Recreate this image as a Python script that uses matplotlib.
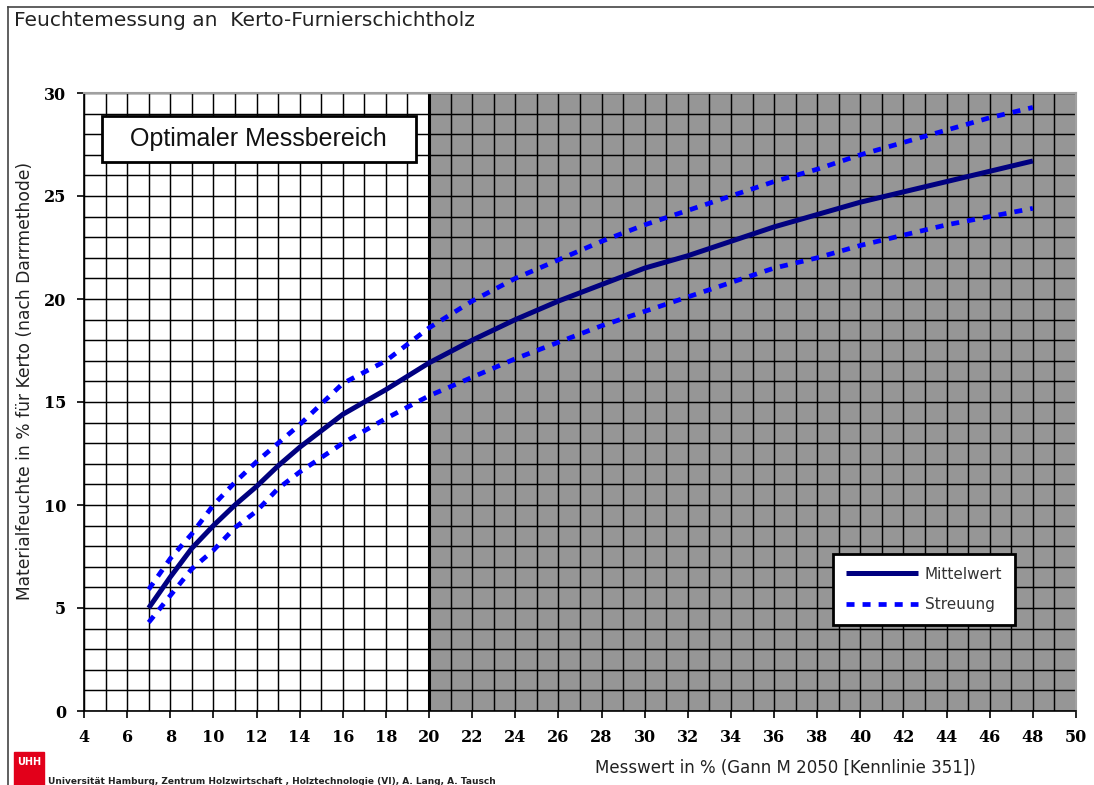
import numpy as np
import matplotlib
matplotlib.use('Agg')
from matplotlib import pyplot as plt
from matplotlib.lines import Line2D
from matplotlib.patches import Rectangle

# ----------------------------------------------------------------------------
# Data

messwert = [7, 8, 9, 10, 11, 12, 13, 14, 15, 16, 18, 20, 22, 24, 26, 28,
            30, 32, 34, 36, 38, 40, 42, 44, 46, 48]
mittelwert = [5.0, 6.5, 7.9, 9.0, 10.0, 10.9, 11.9, 12.8, 13.6, 14.4, 15.6,
              16.9, 18.0, 19.0, 19.9, 20.7, 21.5, 22.1, 22.8, 23.5, 24.1,
              24.7, 25.2, 25.7, 26.2, 26.7]
streuung_oben = [5.9, 7.4, 8.6, 10.0, 11.1, 12.1, 13.0, 13.9, 14.9, 15.9,
                 17.0, 18.6, 19.9, 21.0, 21.9, 22.8, 23.6, 24.3, 25.0, 25.7,
                 26.3, 27.0, 27.6, 28.2, 28.8, 29.3]
streuung_unten = [4.3, 5.6, 6.9, 7.8, 8.9, 9.7, 10.8, 11.6, 12.3, 13.0,
                  14.2, 15.3, 16.2, 17.1, 17.9, 18.7, 19.4, 20.1, 20.8, 21.5,
                  22.0, 22.6, 23.1, 23.6, 24.0, 24.4]

x_ticks = list(range(4, 51, 2))
y_ticks = [0, 5, 10, 15, 20, 25, 30]
optimal_end = 20

# ----------------------------------------------------------------------------

fig = plt.figure(figsize=(10.94, 7.85), dpi=100)
ax = fig.add_axes([84/1094, 1 - 711/785, 992/1094, 618/785])

ax.set_xlim(4, 50)
ax.set_ylim(0, 30)

# grey area outside the optimal range
ax.axvspan(optimal_end, 50, color='#969696', zorder=0, lw=0)

# fine grid at every unit
for xv in range(4, 51):
    ax.axvline(xv, color='black', lw=1.05, zorder=1)
for yv in range(0, 31):
    ax.axhline(yv, color='black', lw=1.05, zorder=1)
ax.axvline(optimal_end, color='black', lw=2.2, zorder=1)

ax.plot(messwert, mittelwert, color='#000080', lw=3.6, zorder=3,
        solid_capstyle='butt', label='Mittelwert')
ax.plot(messwert, streuung_oben, color='#0000ff', lw=3.4, zorder=3,
        dashes=(1.7, 1.7), label='Streuung')
ax.plot(messwert, streuung_unten, color='#0000ff', lw=3.4, zorder=3,
        dashes=(1.7, 1.7))

ax.set_xticks(x_ticks)
ax.set_yticks(y_ticks)
tick_font = dict(family='DejaVu Serif', weight='bold', size=11.5)
ax.set_xticklabels([str(t) for t in x_ticks], **tick_font)
ax.set_yticklabels([str(t) for t in y_ticks], **tick_font)
ax.tick_params(axis='both', direction='out', length=5, width=1.2,
               color='black', pad=8)

for side in ['top', 'right']:
    ax.spines[side].set_color('#a0a0a0')
    ax.spines[side].set_linewidth(1.5)
for side in ['left', 'bottom']:
    ax.spines[side].set_color('black')
    ax.spines[side].set_linewidth(1.2)

# "Optimaler Messbereich" label box
ax.add_patch(Rectangle((0.0181, 0.888), 0.3166, 0.075, transform=ax.transAxes,
                       fc='white', ec='black', lw=2, zorder=5))
ax.text(0.176, 0.926, 'Optimaler Messbereich', family='Liberation Sans',
        size=18, va='center', ha='center', zorder=6, color='#111111',
        transform=ax.transAxes)

leg = ax.legend(loc='lower left', bbox_to_anchor=(0.755, 0.139),
                borderaxespad=0, fancybox=False, framealpha=1,
                edgecolor='black', handlelength=4.7, handletextpad=0.45,
                labelspacing=1.0, borderpad=0.85,
                prop=dict(family='DejaVu Sans', size=11))
leg.get_frame().set_linewidth(2)
leg.set_zorder(6)
for t in leg.get_texts():
    t.set_color('#333333')

fig.text(785/1094, 1 - 768/785, 'Messwert in % (Gann M 2050 [Kennlinie 351])',
         ha='center', va='center', size=12, color='#222222')
fig.text(25/1094, 1 - 381/785,
         'Materialfeuchte in % für Kerto (nach Darrmethode)',
         ha='center', va='center', rotation=90, size=12.3, color='#222222')
fig.text(14/1094, 1 - 20/785, 'Feuchtemessung an  Kerto-Furnierschichtholz',
         ha='left', va='center', size=14.5, color='#222222')

# outer frame lines
fig.add_artist(Line2D([8/1094, 8/1094], [0, 1 - 7/785], color='#444444', lw=1.2))
fig.add_artist(Line2D([8/1094, 1], [1 - 7/785, 1 - 7/785], color='#444444', lw=1.2))

# university logo and footer
fig.add_artist(Rectangle((14/1094, 0), 30/1094, 33/785, color='#e2001a'))
fig.text(29/1094, 1 - 762/785, 'UHH', color='white', size=7, weight='bold',
         ha='center', va='center')
fig.text(48/1094, 1 - 781/785,
         'Universität Hamburg, Zentrum Holzwirtschaft , Holztechnologie (VI), A. Lang, A. Tausch',
         ha='left', va='center', size=6.5, weight='bold', color='#222222')

plt.savefig('out.png', dpi=100)
